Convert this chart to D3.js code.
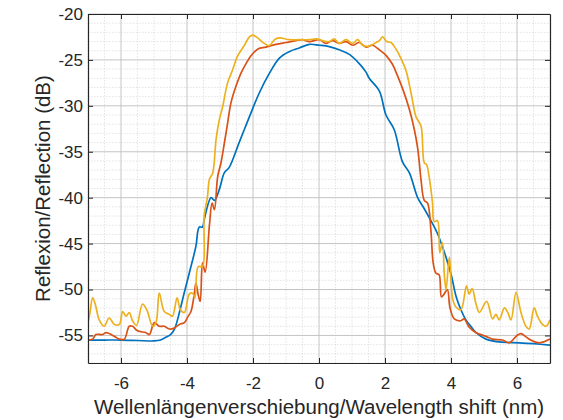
<!DOCTYPE html>
<html>
<head>
<meta charset="utf-8">
<script src="https://cdn.jsdelivr.net/npm/d3@7"></script>
<style>
  body { margin: 0; background: #fff; }
  svg text { font-family: "Liberation Sans", Arial, Helvetica, sans-serif; fill: #262626; }
</style>
</head>
<body>
<div id="chart"></div>
<script>
// tick values
const xTicks = [-6, -4, -2, 0, 2, 4, 6];
const yTicks = [-55, -50, -45, -40, -35, -30, -25, -20];

// series: [shift nm, reflection dB]
const blueData = [[-7.0,-55.5],[-6.5,-55.5],[-6.0,-55.5],[-5.5,-55.55],[-5.0,-55.6],[-4.8,-55.5],[-4.64,-55.2],[-4.5,-54.9],[-4.38,-54.3],[-4.23,-52.5],[-4.08,-50.3],[-3.93,-48.2],[-3.73,-45.3],[-3.63,-43.2],[-3.53,-43.2],[-3.48,-42.4],[-3.27,-40.0],[-3.17,-40.3],[-3.02,-39.1],[-2.87,-37.3],[-2.72,-36.7],[-2.42,-34.0],[-2.11,-31.2],[-1.81,-28.6],[-1.51,-26.5],[-1.20,-24.8],[-0.90,-24.1],[-0.60,-23.7],[-0.29,-23.3],[0.01,-23.4],[0.31,-23.55],[0.61,-23.9],[0.92,-24.4],[1.22,-25.4],[1.42,-26.3],[1.52,-27.0],[1.83,-28.4],[2.03,-31.0],[2.28,-32.6],[2.53,-36.1],[2.74,-37.3],[2.99,-40.0],[3.19,-41.2],[3.39,-42.5],[3.59,-43.9],[3.85,-46.5],[4.02,-48.6],[4.15,-50.7],[4.3,-52.2],[4.45,-53.3],[4.6,-54.0],[4.76,-54.7],[5.06,-55.4],[5.46,-55.7],[6.07,-55.8],[6.5,-55.9],[7.0,-56.05]];

const orangeData = [[-7.0,-55.5],[-6.86,-55.4],[-6.76,-54.9],[-6.56,-54.9],[-6.45,-54.7],[-6.2,-55.1],[-6.05,-55.4],[-5.9,-55.4],[-5.75,-54.0],[-5.65,-54.0],[-5.5,-54.5],[-5.24,-54.7],[-5.14,-54.9],[-4.99,-53.6],[-4.84,-54.0],[-4.69,-54.0],[-4.54,-54.3],[-4.39,-54.2],[-4.23,-53.8],[-4.08,-53.6],[-3.98,-53.0],[-3.88,-52.4],[-3.78,-50.5],[-3.73,-49.3],[-3.67,-50.4],[-3.6,-51.3],[-3.53,-47.1],[-3.45,-48.1],[-3.32,-43.0],[-3.24,-40.6],[-3.17,-41.3],[-3.07,-37.7],[-2.97,-36.2],[-2.87,-34.1],[-2.77,-31.9],[-2.67,-29.7],[-2.52,-27.9],[-2.36,-26.4],[-2.21,-25.4],[-2.05,-24.5],[-1.85,-23.8],[-1.61,-23.6],[-1.30,-23.3],[-1.0,-23.1],[-0.7,-22.9],[-0.5,-22.8],[-0.29,-23.0],[0.01,-22.8],[0.21,-23.2],[0.41,-22.9],[0.61,-23.2],[0.82,-23.0],[1.02,-23.4],[1.22,-23.1],[1.42,-23.6],[1.62,-23.4],[1.83,-23.9],[2.03,-24.5],[2.23,-25.5],[2.33,-26.3],[2.53,-28.1],[2.74,-30.4],[2.89,-32.6],[2.99,-34.6],[3.04,-36.2],[3.09,-38.0],[3.19,-40.3],[3.29,-40.6],[3.39,-43.5],[3.46,-47.1],[3.54,-48.2],[3.64,-48.4],[3.71,-50.8],[3.79,-50.5],[3.89,-50.0],[3.97,-52.0],[4.1,-53.2],[4.3,-53.4],[4.40,-53.2],[4.55,-54.1],[4.76,-54.7],[5.06,-55.1],[5.26,-55.4],[5.56,-55.5],[5.77,-55.8],[6.0,-55.0],[6.12,-54.8],[6.37,-55.4],[6.68,-55.8],[7.0,-55.4]];

const yellowData = [[-7.0,-53.6],[-6.94,-52.5],[-6.86,-50.9],[-6.78,-51.6],[-6.66,-53.3],[-6.51,-54.0],[-6.36,-53.1],[-6.2,-53.8],[-6.05,-53.8],[-5.95,-52.4],[-5.85,-52.9],[-5.75,-52.5],[-5.65,-53.4],[-5.53,-53.9],[-5.35,-51.6],[-5.22,-52.2],[-5.04,-54.0],[-4.94,-53.6],[-4.84,-50.4],[-4.69,-52.4],[-4.54,-52.7],[-4.44,-52.9],[-4.3,-50.9],[-4.2,-52.2],[-4.08,-52.5],[-3.93,-50.5],[-3.83,-50.4],[-3.76,-50.9],[-3.66,-47.5],[-3.53,-47.5],[-3.48,-42.0],[-3.38,-39.9],[-3.32,-38.0],[-3.22,-37.3],[-3.12,-33.7],[-3.02,-31.5],[-2.92,-30.1],[-2.77,-27.5],[-2.62,-26.1],[-2.47,-24.6],[-2.26,-23.4],[-2.11,-22.5],[-2.01,-22.3],[-1.86,-22.6],[-1.66,-23.2],[-1.51,-23.45],[-1.35,-22.8],[-1.2,-22.6],[-0.9,-22.8],[-0.6,-22.8],[-0.29,-22.8],[-0.09,-22.7],[0.11,-22.9],[0.31,-23.0],[0.46,-22.7],[0.61,-23.2],[0.82,-22.8],[1.02,-23.2],[1.17,-22.8],[1.32,-23.4],[1.52,-23.5],[1.68,-23.2],[1.83,-22.9],[1.93,-22.5],[2.05,-23.0],[2.18,-23.1],[2.33,-23.8],[2.48,-24.8],[2.64,-26.2],[2.79,-28.6],[2.94,-31.2],[3.09,-32.2],[3.19,-36.2],[3.26,-36.4],[3.34,-37.8],[3.44,-40.6],[3.49,-42.6],[3.59,-42.5],[3.66,-46.0],[3.74,-44.9],[3.8,-48.5],[3.85,-50.0],[3.95,-46.5],[4.05,-51.0],[4.15,-51.9],[4.3,-52.2],[4.47,-49.6],[4.55,-50.5],[4.64,-49.9],[4.76,-51.6],[4.86,-52.5],[5.08,-51.3],[5.26,-53.2],[5.36,-52.7],[5.46,-53.3],[5.62,-52.0],[5.72,-52.5],[5.82,-53.3],[5.97,-50.3],[6.12,-52.5],[6.27,-54.0],[6.37,-54.3],[6.52,-52.0],[6.62,-52.9],[6.77,-53.8],[6.88,-54.0],[7.0,-53.3]];

const seriesColors = ["#0072BD", "#D95319", "#EDB120"];

const width = 563, height = 420;
const margin = { top: 14, right: 13, bottom: 57, left: 88 };
const innerW = width - margin.left - margin.right;
const innerH = height - margin.top - margin.bottom;

const svg = d3.select("#chart").append("svg")
    .attr("width", width)
    .attr("height", height);

const g = svg.append("g")
    .attr("transform", `translate(${margin.left},${margin.top})`);

const xScale = d3.scaleLinear().domain([-7, 7]).range([0, innerW]);
const yScale = d3.scaleLinear().domain([-58, -20]).range([innerH, 0]);

// minor grid (dotted)
g.append("g")
    .selectAll("line")
    .data(d3.range(-7, 7.01, 0.5).filter(v => Math.abs(v % 2) > 0.01))
    .join("line")
    .attr("x1", d => xScale(d)).attr("x2", d => xScale(d))
    .attr("y1", 0).attr("y2", innerH)
    .attr("stroke", "#d9d9d9").attr("stroke-width", 0.7)
    .attr("stroke-dasharray", "1.5,1.5");

g.append("g")
    .selectAll("line")
    .data(d3.range(-58, -20, 1).filter(v => v % 5 !== 0))
    .join("line")
    .attr("x1", 0).attr("x2", innerW)
    .attr("y1", d => yScale(d)).attr("y2", d => yScale(d))
    .attr("stroke", "#d9d9d9").attr("stroke-width", 0.7)
    .attr("stroke-dasharray", "1.5,1.5");

// major grid
g.append("g")
    .selectAll("line")
    .data(xTicks)
    .join("line")
    .attr("x1", d => xScale(d)).attr("x2", d => xScale(d))
    .attr("y1", 0).attr("y2", innerH)
    .attr("stroke", "#c4c4c4").attr("stroke-width", 1);

g.append("g")
    .selectAll("line")
    .data(yTicks)
    .join("line")
    .attr("x1", 0).attr("x2", innerW)
    .attr("y1", d => yScale(d)).attr("y2", d => yScale(d))
    .attr("stroke", "#c4c4c4").attr("stroke-width", 1);

// lines
svg.append("defs").append("clipPath").attr("id", "clip")
    .append("rect").attr("width", innerW).attr("height", innerH);

const line = d3.line()
    .x(d => xScale(d[0]))
    .y(d => yScale(d[1]))
    .curve(d3.curveCatmullRom.alpha(0.5));

const plot = g.append("g").attr("clip-path", "url(#clip)");
[blueData, orangeData, yellowData].forEach((s, i) => {
    plot.append("path")
        .datum(s)
        .attr("d", line)
        .attr("fill", "none")
        .attr("stroke", seriesColors[i])
        .attr("stroke-width", 1.7)
        .attr("stroke-linejoin", "round");
});

// axes, ticks inward, box all round
const tickLen = 5;
const bottomAxis = g.append("g")
    .attr("transform", `translate(0,${innerH})`)
    .call(d3.axisBottom(xScale).tickValues(xTicks).tickSizeInner(-tickLen).tickSizeOuter(0).tickPadding(14)
        .tickFormat(d => d < 0 ? "-" + Math.abs(d) : d));
const leftAxis = g.append("g")
    .call(d3.axisLeft(yScale).tickValues(yTicks).tickSizeInner(-tickLen).tickSizeOuter(0).tickPadding(5)
        .tickFormat(d => "-" + Math.abs(d)));
const topAxis = g.append("g")
    .call(d3.axisTop(xScale).tickValues(xTicks).tickSizeInner(-tickLen).tickSizeOuter(0).tickFormat(""));
const rightAxis = g.append("g")
    .attr("transform", `translate(${innerW},0)`)
    .call(d3.axisRight(yScale).tickValues(yTicks).tickSizeInner(-tickLen).tickSizeOuter(0).tickFormat(""));

[bottomAxis, leftAxis, topAxis, rightAxis].forEach(a => {
    a.select(".domain").attr("stroke", "#262626").attr("stroke-width", 1.2);
    a.selectAll(".tick line").attr("stroke", "#262626").attr("stroke-width", 1);
    a.selectAll("text").style("font-size", "17px").attr("fill", "#262626");
});

// axis titles
svg.append("text")
    .attr("x", margin.left + innerW / 2)
    .attr("y", 414)
    .attr("text-anchor", "middle")
    .style("font-size", "20.5px")
    .text("Wellenlängenverschiebung/Wavelength shift (nm)");

svg.append("text")
    .attr("transform", `translate(50,${margin.top + innerH / 2}) rotate(-90)`)
    .attr("text-anchor", "middle")
    .style("font-size", "20.5px")
    .text("Reflexion/Reflection (dB)");
</script>
</body>
</html>
